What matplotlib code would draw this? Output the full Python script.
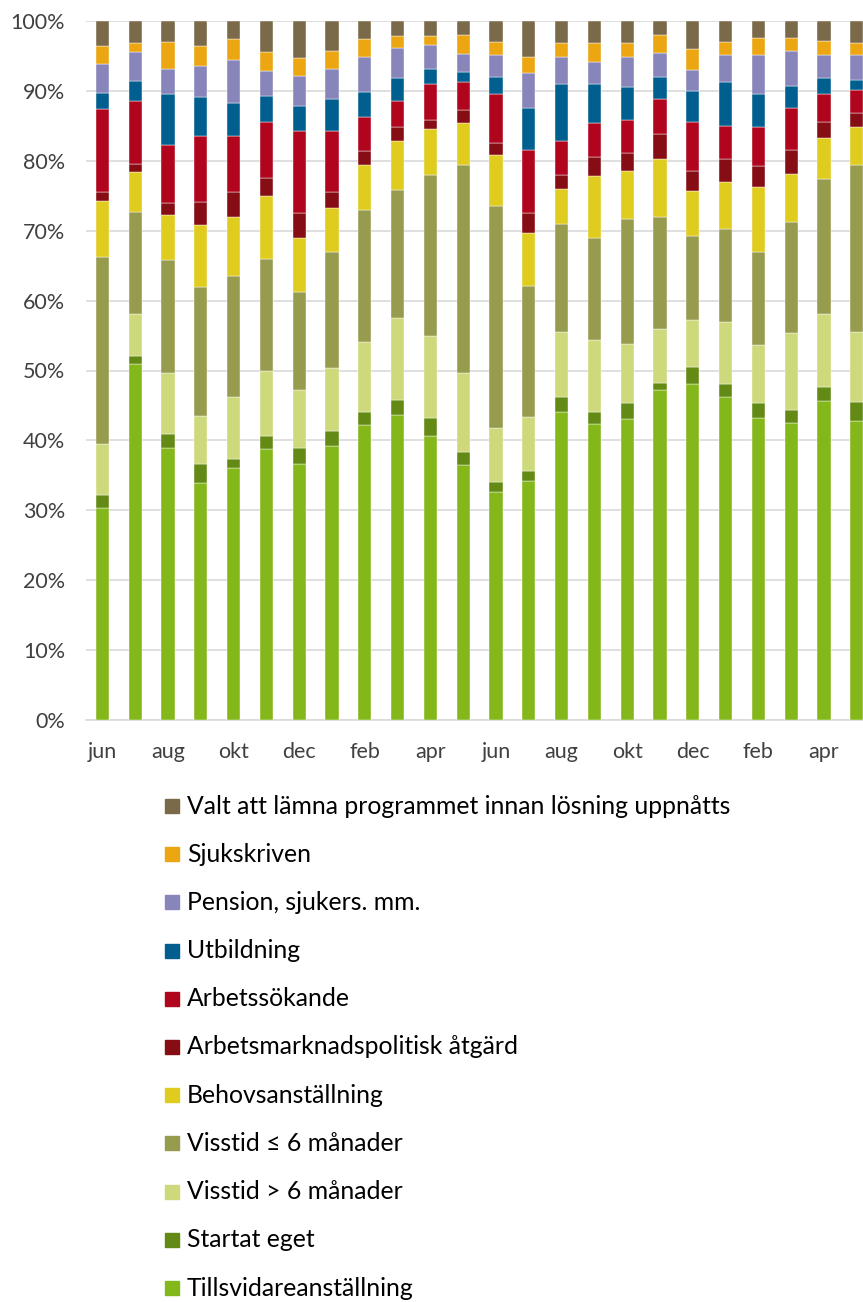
import numpy as np
import matplotlib
matplotlib.use('Agg')
import matplotlib.pyplot as plt
from matplotlib.patches import Rectangle

plt.rcParams['font.family'] = ['Lato', 'DejaVu Sans']

months = ['jun', 'jul', 'aug', 'sep', 'okt', 'nov', 'dec', 'jan', 'feb', 'mar', 'apr', 'maj',
          'jun', 'jul', 'aug', 'sep', 'okt', 'nov', 'dec', 'jan', 'feb', 'mar', 'apr', 'maj']

# share of participants (%) per outcome, bottom to top
tillsvidare = [30.3, 51.0, 38.9, 33.9, 36.0, 38.8, 36.6, 39.2, 42.2, 43.7, 40.7, 36.5,
               32.6, 34.2, 44.0, 42.4, 43.1, 47.2, 48.0, 46.2, 43.2, 42.5, 45.6, 42.8]
startat_eget = [1.9, 1.1, 2.0, 2.7, 1.4, 1.8, 2.3, 2.2, 1.9, 2.1, 2.5, 1.9,
                1.4, 1.4, 2.2, 1.7, 2.3, 1.0, 2.5, 1.8, 2.2, 1.8, 2.0, 2.7]
visstid_lang = [7.3, 6.0, 8.8, 6.9, 8.8, 9.4, 8.3, 8.9, 10.0, 11.7, 11.8, 11.2,
                7.8, 7.7, 9.3, 10.3, 8.4, 7.8, 6.7, 9.0, 8.3, 11.0, 10.5, 10.0]
visstid_kort = [26.8, 14.6, 16.1, 18.5, 17.3, 15.9, 14.1, 16.7, 18.8, 18.3, 22.9, 29.8,
                31.8, 18.8, 15.5, 14.5, 17.9, 15.9, 12.1, 13.2, 13.2, 16.0, 19.3, 23.9]
behov = [7.9, 5.7, 6.4, 8.8, 8.5, 9.1, 7.7, 6.3, 6.5, 7.0, 6.6, 6.0,
         7.2, 7.6, 4.9, 8.9, 6.9, 8.4, 6.4, 6.7, 9.3, 6.8, 5.8, 5.5]
atgard = [1.3, 1.1, 1.7, 3.3, 3.6, 2.5, 3.6, 2.2, 2.0, 2.0, 1.3, 1.9,
          1.7, 2.9, 2.0, 2.8, 2.5, 3.5, 2.9, 3.3, 3.0, 3.4, 2.4, 2.0]
arbetssokande = [11.9, 9.0, 8.4, 9.4, 7.9, 8.0, 11.6, 8.8, 4.9, 3.8, 5.2, 4.0,
                 7.0, 8.9, 5.0, 4.8, 4.7, 5.0, 7.0, 4.8, 5.7, 6.0, 3.9, 3.2]
utbildning = [2.3, 2.9, 7.3, 5.6, 4.8, 3.7, 3.7, 4.6, 3.6, 3.3, 2.2, 1.4,
              2.5, 6.1, 8.1, 5.6, 4.7, 3.2, 4.4, 6.3, 4.7, 3.2, 2.3, 1.4]
pension = [4.2, 4.1, 3.6, 4.5, 6.1, 3.7, 4.3, 4.2, 5.0, 4.3, 3.3, 2.6,
           3.2, 5.0, 3.9, 3.2, 4.3, 3.4, 3.0, 3.9, 5.6, 5.0, 3.4, 3.6]
sjukskriven = [2.5, 1.3, 3.8, 2.8, 3.0, 2.6, 2.5, 2.6, 2.5, 1.7, 1.3, 2.7,
               1.8, 2.2, 2.0, 2.6, 2.1, 2.6, 3.0, 1.8, 2.4, 1.9, 1.9, 1.7]
valt_att_lamna = [3.6, 3.2, 3.0, 3.6, 2.6, 4.5, 5.3, 4.3, 2.6, 2.1, 2.2, 2.0,
                  3.0, 5.2, 3.1, 3.2, 3.1, 2.0, 4.0, 3.0, 2.4, 2.4, 2.9, 3.2]

series = [
    ('Tillsvidareanställning', tillsvidare, '#84b71a'),
    ('Startat eget', startat_eget, '#638a14'),
    ('Visstid > 6 månader', visstid_lang, '#cdd97a'),
    ('Visstid ≤ 6 månader', visstid_kort, '#979b4d'),
    ('Behovsanställning', behov, '#dfcc1e'),
    ('Arbetsmarknadspolitisk åtgärd', atgard, '#870d15'),
    ('Arbetssökande', arbetssokande, '#b0051d'),
    ('Utbildning', utbildning, '#005f8f'),
    ('Pension, sjukers. mm.', pension, '#8785ba'),
    ('Sjukskriven', sjukskriven, '#eba612'),
    ('Valt att lämna programmet innan lösning uppnåtts', valt_att_lamna, '#7a6a4a'),
]

W, H = 863, 1302
fig = plt.figure(figsize=(W / 100, H / 100), dpi=100)
ax = fig.add_axes([86 / W, 582 / H, (W - 86) / W, 699 / H])

x = np.arange(len(months))
bottom = np.zeros(len(months))
for label, vals, color in series:
    vals = np.array(vals)
    ax.bar(x, vals, 0.4, bottom=bottom, color=color, edgecolor='white', linewidth=0.3, zorder=3)
    bottom += vals

ax.set_xlim(-0.5, 23.19)
ax.set_ylim(0, 100)
ax.set_yticks(np.arange(0, 101, 10))
ax.set_yticklabels([f'{v}%' for v in range(0, 101, 10)])
ax.set_xticks(x[::2])
ax.set_xticklabels(months[::2])
ax.tick_params(length=0, labelsize=15.5, labelcolor='#404040')
ax.tick_params(axis='y', pad=15)
ax.tick_params(axis='x', pad=16)
ax.grid(axis='y', color='#d9d9d9', linewidth=1.2, zorder=0)
for s in ['top', 'right', 'left']:
    ax.spines[s].set_visible(False)
ax.spines['bottom'].set_color('#d9d9d9')
ax.spines['bottom'].set_linewidth(1.2)

# legend, top entry is the last series
for i, (label, vals, color) in enumerate(reversed(series)):
    yc = 806 + i * 48.2
    fig.patches.append(Rectangle((165 / W, 1 - (yc + 7) / H), 14 / W, 14 / H,
                                 transform=fig.transFigure, color=color))
    fig.text(187 / W, 1 - yc / H, label, fontsize=17.8, color='black', va='center', ha='left')

fig.savefig('out.png', dpi=100)
